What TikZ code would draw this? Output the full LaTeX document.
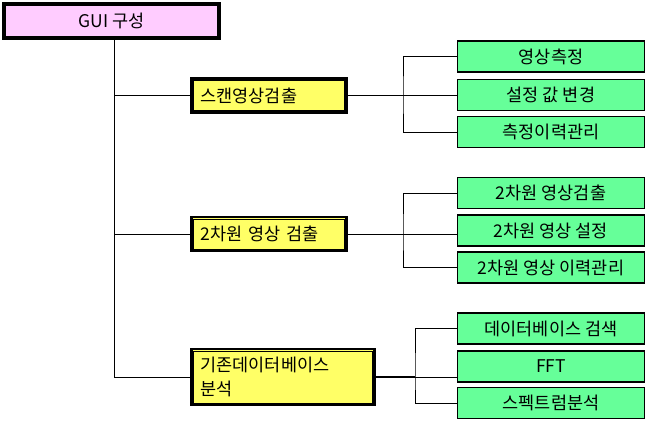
\documentclass[tikz,border=0pt]{standalone}
\usepackage{fontspec}
\setmainfont{Noto Sans CJK KR}
\definecolor{rootpink}{RGB}{255,204,255}
\definecolor{partyellow}{RGB}{255,255,102}
\definecolor{itemgreen}{RGB}{102,255,153}
\tikzset{
  rootbox/.style={draw, line width=2.5pt, fill=rootpink, minimum width=216, minimum height=35, inner sep=0pt},
  partbox/.style={draw, line width=2.5pt, fill=partyellow, text width=#1, align=left, inner xsep=9pt, minimum height=34},
  itembox/.style={draw, line width=1.2pt, fill=itemgreen, minimum width=187, minimum height=31, inner sep=0pt},
  link/.style={line width=0.9pt},
}
\begin{document}
\begin{tikzpicture}[x=1pt, y=-1pt, font=\fontsize{17.5}{24}\selectfont]
\useasboundingbox (0,0) rectangle (647,421);
% root
\node[rootbox] (gui) at (111.5,21) {GUI 구성};
% second level
\node[partbox=137] (scan) at (269,95.5) {스캔영상검출};
\node[partbox=137] (plane) at (269,234) {2차원 영상 검출};
\node[partbox=165, minimum height=56, inner ysep=4pt] (base) at (283,377) {기존데이터베이스\\분석};
% third level
\node[itembox] (measure) at (551,56.5) {영상측정};
\node[itembox] (change) at (551,95) {설정 값 변경};
\node[itembox] (hist) at (551,132) {측정이력관리};
\node[itembox] (pdetect) at (551,193) {2차원 영상검출};
\node[itembox] (pset) at (551,230.5) {2차원 영상 설정};
\node[itembox] (phist) at (551,267.5) {2차원 영상 이력관리};
\node[itembox] (dbsearch) at (551,328.5) {데이터베이스 검색};
\node[itembox] (fft) at (551,366.5) {FFT};
\node[itembox] (spectrum) at (551,403) {스펙트럼분석};
% inner frames
\foreach \n in {gui,scan,plane,base}
  \draw[line width=0.6pt] ([shift={(3.2pt,-3.2pt)}]\n.north west) rectangle ([shift={(-3.2pt,3.2pt)}]\n.south east);
% trunk
\coordinate (top) at (114,40);
\coordinate (j1) at (403,95.5);
\coordinate (j2) at (403,234);
\coordinate (j3) at (415,377);
\draw[link] (top) -- (top |- base.west);
\draw[link] (top |- scan.west) -- (scan.west);
\draw[link] (top |- plane.west) -- (plane.west);
\draw[link] (top |- base.west) -- (base.west);
% branches
\draw[link] (scan.east) -- (j1);
\draw[link] (measure.west) -| (j1) |- (hist.west);
\draw[link] (j1) -- (change.west |- j1);
\draw[link] (plane.east) -- (j2);
\draw[link] (pdetect.west) -| (j2) |- (phist.west);
\draw[link] (j2) -- (pset.west |- j2);
\draw[line width=1.8pt] (base.east) -- (j3);
\draw[link] (dbsearch.west) -| (j3) |- (spectrum.west);
\draw[link] (j3) -- (fft.west |- j3);
\end{tikzpicture}
\end{document}
